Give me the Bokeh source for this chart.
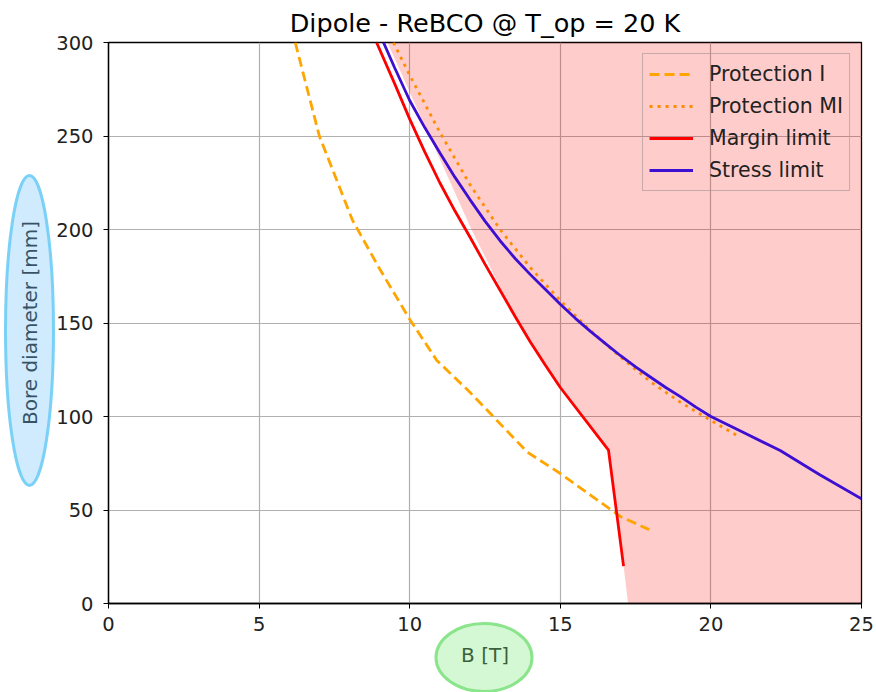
from bokeh.plotting import figure
from bokeh.models import FixedTicker
from bokeh.embed import file_html
from bokeh.resources import INLINE

# Protection I (dashed)
prot_i_B = [6.2, 7.0, 8.1, 9.0, 10.0, 10.9, 12.0, 13.9, 15.0, 16.0, 17.0, 17.95]
prot_i_D = [300, 250, 205, 179, 152, 130, 113, 81, 69.5, 58, 46.5, 39.5]

# Protection MI (dotted)
prot_mi_B = [9.46, 10.0, 11.0, 12.0, 13.0, 14.0, 15.0, 16.0, 17.0, 18.0, 19.0, 20.0, 20.98]
prot_mi_D = [300, 282.5, 252, 224, 200, 179.7, 162, 146, 131.8, 118.5, 107.5, 97.9, 88.8]

# Margin limit
margin_B = [8.9, 9.5, 10.0, 10.5, 11.0, 11.5, 12.0, 12.5, 13.0, 13.5, 14.0, 14.5, 15.0, 16.6, 17.1]
margin_D = [300, 278, 259, 241.5, 225, 210, 196, 181.5, 167.5, 153.5, 140, 127.5, 115.5, 82, 20]

# Stress limit
stress_B = [9.13, 9.5, 10.0, 10.5, 11.0, 11.5, 12.0, 12.5, 13.0, 13.5, 14.0, 14.5, 15.0,
            15.5, 16.0, 16.5, 17.0, 17.5, 18.0, 18.5, 19.0, 19.5, 20.0, 21.0, 22.3, 23.6, 25.0]
stress_D = [300, 286.5, 269, 254.5, 241, 228, 216, 204.5, 194, 184.5, 176, 168, 160,
            152.5, 145.5, 139, 132.5, 126.5, 121, 115.5, 110.5, 105, 100, 92.1, 81.8, 69, 56]

# Boundary of the excluded (shaded) region
excl_B = [9.26, 12.05, 13.6, 15.0, 16.6, 17.1, 17.25, 25.0, 25.0]
excl_D = [300, 200, 150, 115.5, 82, 20, 0, 0, 300]

x_ticks = [0, 5, 10, 15, 20, 25]
y_ticks = [0, 50, 100, 150, 200, 250, 300]

FONT = "DejaVu Sans"
W, H = 876, 692

p = figure(width=W, height=H, x_range=(0, 25), y_range=(0, 300),
           output_backend="svg", toolbar_location=None,
           title="Dipole - ReBCO @ T_op = 20 K",
           min_border_left=108, min_border_right=15,
           min_border_top=42, min_border_bottom=89)

p.title.align = "center"
p.title.text_font = FONT
p.title.text_font_size = "25.5px"
p.title.text_font_style = "normal"
p.title.text_color = "black"

p.background_fill_color = "white"
p.border_fill_color = "white"
p.outline_line_color = "black"
p.outline_line_width = 1.3

for ax in (p.xaxis[0], p.yaxis[0]):
    ax.axis_line_color = "black"
    ax.axis_line_width = 1.3
    ax.major_tick_line_color = "black"
    ax.major_tick_out = 5
    ax.major_tick_in = 0
    ax.minor_tick_line_color = None
    ax.major_label_text_font = FONT
    ax.major_label_text_font_size = "19.5px"
    ax.major_label_text_color = "#222222"
    ax.axis_label_text_font = FONT
    ax.axis_label_text_font_size = "20px"
    ax.axis_label_text_font_style = "normal"
    ax.axis_label_text_color = "black"

p.xaxis.ticker = FixedTicker(ticks=x_ticks)
p.yaxis.ticker = FixedTicker(ticks=y_ticks)
p.xaxis.axis_label = "B [T]"
p.yaxis.axis_label = "Bore diameter [mm]"
p.xaxis.major_label_standoff = 8
p.yaxis.major_label_standoff = 10
p.xaxis.axis_label_standoff = 9
p.yaxis.axis_label_standoff = 11

p.grid.grid_line_color = "#b0b0b0"
p.grid.grid_line_width = 1.2

# shaded region
p.patch(excl_B, excl_D, fill_color="red", fill_alpha=0.2, line_color=None)

lw = 2.8
p.line(prot_i_B, prot_i_D, line_color="orange", line_width=lw,
       line_dash="10 5", legend_label="Protection I")
p.line(prot_mi_B, prot_mi_D, line_color="darkorange", line_width=lw,
       line_dash="3 5", legend_label="Protection MI")
p.line(margin_B, margin_D, line_color="red", line_width=lw,
       legend_label="Margin limit")
p.line(stress_B, stress_D, line_color="#3c0fd2", line_width=lw,
       legend_label="Stress limit")

lg = p.legend[0]
lg.location = "top_right"
lg.margin = 11
lg.padding = 6
lg.spacing = 4
lg.glyph_width = 44
lg.glyph_height = 28
lg.label_height = 28
lg.label_standoff = 16
lg.label_text_font = FONT
lg.label_text_font_size = "20.5px"
lg.label_text_color = "#222222"
lg.background_fill_alpha = 0
lg.border_line_color = "#b09a9a"
lg.border_line_alpha = 0.7
lg.border_line_width = 1.5

# Transparent layer laid over the whole chart (pixel coordinates, y down)
# holding the translucent ovals that highlight the two axis titles.
overlay = figure(width=W, height=H, x_range=(0, W), y_range=(H, 0),
                 output_backend="svg", toolbar_location=None,
                 min_border=0, outline_line_color=None,
                 background_fill_alpha=0, border_fill_alpha=0,
                 styles={"position": "absolute", "left": "0px", "top": "0px",
                         "pointer-events": "none"})
overlay.xaxis.visible = False
overlay.yaxis.visible = False
overlay.grid.visible = False

overlay.ellipse(x=[29], y=[330], width=[48], height=[310],
                fill_color="lightskyblue", fill_alpha=0.4,
                line_color="#74cff5", line_alpha=0.95, line_width=3)
overlay.ellipse(x=[483.5], y=[657], width=[96], height=[68],
                fill_color="lightgreen", fill_alpha=0.4,
                line_color="#86e386", line_alpha=0.95, line_width=3)

open("out.html", "w").write(file_html([p, overlay], INLINE))
